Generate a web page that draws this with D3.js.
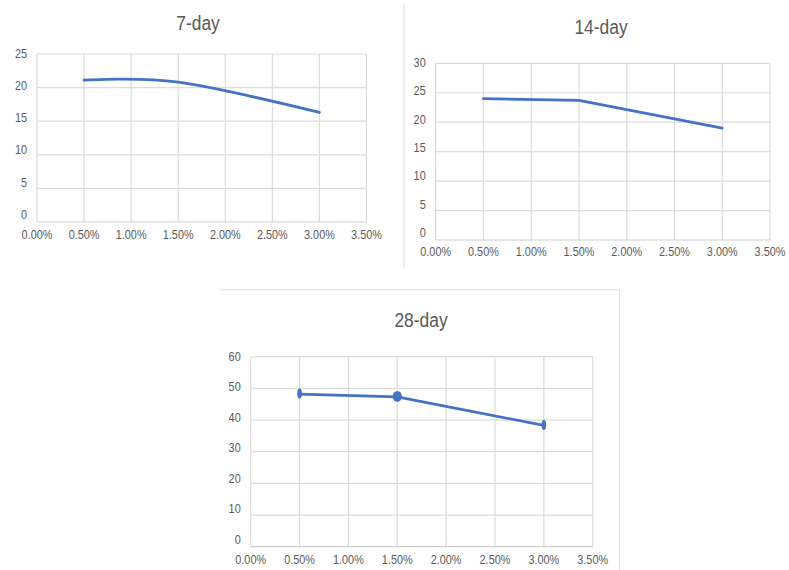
<!DOCTYPE html>
<html>
<head>
<meta charset="utf-8">
<script src="https://cdn.jsdelivr.net/npm/d3@7"></script>
<style>
  html, body { margin: 0; padding: 0; background: #ffffff; }
  svg { display: block; }
  text { font-family: "Liberation Sans", Arial, sans-serif; fill: #595959; }
</style>
</head>
<body>
<svg id="chart" width="789" height="570"></svg>
<script>
// ---- Data ----
const xValues = [0.5, 1.5, 3.0];            // concentration (%)
const day7Values  = [21.1, 20.8, 16.3];
const day14Values = [24.0, 23.7, 19.0];
const day28Values = [48.2, 47.3, 38.3];
const xTickValues = [0, 0.5, 1.0, 1.5, 2.0, 2.5, 3.0, 3.5];
const xTickLabels = ["0.00%", "0.50%", "1.00%", "1.50%", "2.00%", "2.50%", "3.00%", "3.50%"];
const day7Ticks  = [0, 5, 10, 15, 20, 25];
const day14Ticks = [0, 5, 10, 15, 20, 25, 30];
const day28Ticks = [0, 10, 20, 30, 40, 50, 60];
const titles = ["7-day", "14-day", "28-day"];

// ---- Layout ----
const svg = d3.select("#chart");
const SX = 0.87;           // horizontal text compression seen in reference
const LINE = "#4472C4";
const GRID = "#dcdcdc";

function addText(g, x, y, str, size, anchor) {
  g.append("text")
    .attr("transform", `translate(${x},${y}) scale(${SX},1)`)
    .attr("text-anchor", anchor)
    .style("font-size", size + "px")
    .text(str);
}

const panels = [
  { title: titles[0], values: day7Values,  ticks: day7Ticks,  max: 25,
    left: 37, right: 366.5, top: 54, bottom: 222, titleX: 198, titleY: 29.5,
    xLabOff: 16.5, curve: d3.curveCardinal.tension(0), markers: false },
  { title: titles[1], values: day14Values, ticks: day14Ticks, max: 30,
    left: 435.7, right: 770, top: 63.3, bottom: 240, titleX: 601, titleY: 33.5,
    xLabOff: 16, curve: d3.curveLinear, markers: false },
  { title: titles[2], values: day28Values, ticks: day28Ticks, max: 60,
    left: 250.7, right: 592.7, top: 356.7, bottom: 546.7, titleX: 421, titleY: 327,
    xLabOff: 17.5, curve: d3.curveLinear, markers: true }
];

// separators
svg.append("line").attr("x1", 404).attr("x2", 404).attr("y1", 4).attr("y2", 268)
  .attr("stroke", "#e3e3e3").attr("stroke-width", 1.2);
svg.append("line").attr("x1", 220).attr("x2", 619.5).attr("y1", 289.5).attr("y2", 289.5)
  .attr("stroke", "#e3e3e3").attr("stroke-width", 1.2);
svg.append("line").attr("x1", 619.5).attr("x2", 619.5).attr("y1", 289.5).attr("y2", 570)
  .attr("stroke", "#e3e3e3").attr("stroke-width", 1.2);

panels.forEach(p => {
  const g = svg.append("g");
  const x = d3.scaleLinear().domain([0, 3.5]).range([p.left, p.right]);
  const y = d3.scaleLinear().domain([0, p.max]).range([p.bottom, p.top]);
  const yLab = d3.scaleLinear().domain([0, p.max]).range([p.bottom - 7.7, p.top - 0.7]);

  // vertical grid
  g.selectAll(".vg").data(xTickValues).join("line")
    .attr("x1", d => x(d)).attr("x2", d => x(d))
    .attr("y1", p.top).attr("y2", p.bottom)
    .attr("stroke", GRID).attr("stroke-width", 1.2);
  // horizontal grid
  g.selectAll(".hg").data(p.ticks).join("line")
    .attr("x1", p.left).attr("x2", p.right)
    .attr("y1", d => y(d)).attr("y2", d => y(d))
    .attr("stroke", d => d === 0 ? "#cfcfcf" : GRID).attr("stroke-width", 1.2);

  // y tick labels
  p.ticks.forEach(t => addText(g, p.left - 10, yLab(t) + 4.5, String(t), 12.5, "end"));
  // x tick labels
  xTickValues.forEach((t, i) => addText(g, x(t), p.bottom + p.xLabOff, xTickLabels[i], 12.5, "middle"));

  // title
  addText(g, p.titleX, p.titleY, p.title, 20, "middle");

  // line
  const pts = xValues.map((xv, i) => [xv, p.values[i]]);
  const line = d3.line().x(d => x(d[0])).y(d => y(d[1])).curve(p.curve);
  g.append("path").datum(pts).attr("d", line)
    .attr("fill", "none").attr("stroke", LINE).attr("stroke-width", 2.8)
    .attr("stroke-linecap", "round").attr("stroke-linejoin", "round");

  if (p.markers) {
    g.selectAll(".mk").data(pts).join("ellipse")
      .attr("cx", d => x(d[0])).attr("cy", d => y(d[1]) - 0.5)
      .attr("rx", (d, i) => i === 1 ? 4.6 : 2.3)
      .attr("ry", (d, i) => i === 1 ? 5.4 : 5)
      .attr("fill", LINE);
  }
});
</script>
</body>
</html>
